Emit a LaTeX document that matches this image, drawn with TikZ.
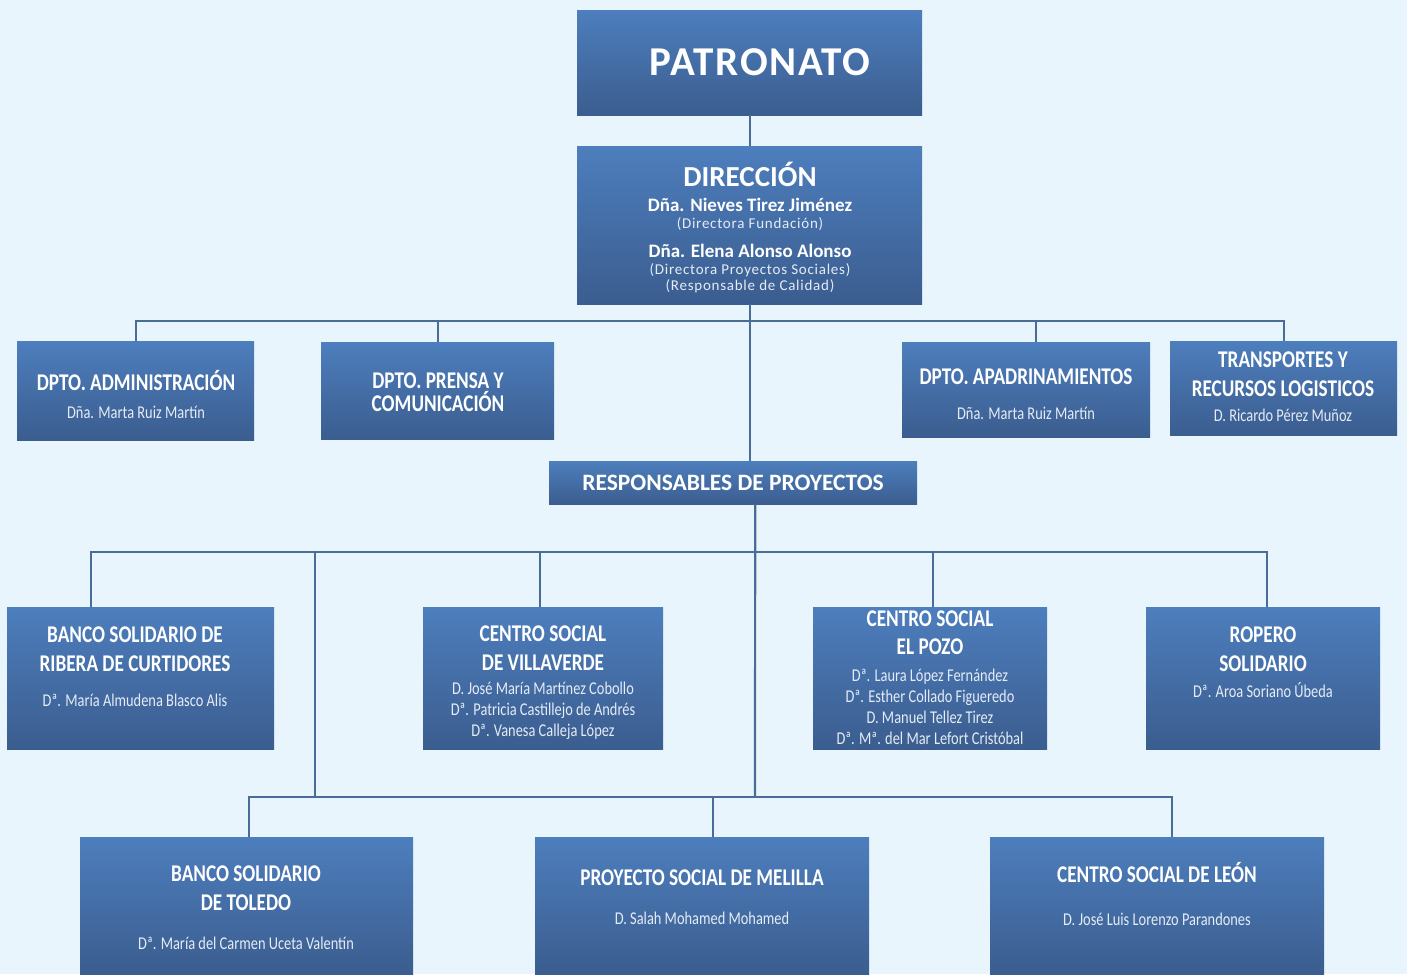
\documentclass[tikz,border=0pt]{standalone}
\usepackage{fontspec}
\setmainfont{Carlito}
\newfontfamily\cnd[FakeStretch=0.8]{Carlito}
\newfontfamily\plainf{Carlito}
\newfontfamily\widef[LetterSpace=4]{Carlito}
\newfontfamily\smallf[LetterSpace=5]{Carlito}
\usetikzlibrary{calc}

\definecolor{bgc}{HTML}{E8F5FC}
\definecolor{boxtop}{HTML}{4D7EBD}
\definecolor{boxbot}{HTML}{3B5D8F}
\definecolor{linec}{HTML}{4A6C98}
\definecolor{namec}{HTML}{E4ECF5}

\tikzset{
  orgbox/.style={rectangle, anchor=north west, inner sep=0pt, draw=none,
    top color=boxtop, bottom color=boxbot},
  orgtxt/.style={text=white, align=center, inner sep=0pt,
    font=\cnd\fontsize{18}{21}\selectfont},
  link/.style={draw=linec, line width=2.2pt},
}
\newcommand{\ttl}[1]{{\bfseries\fontsize{24}{21}\selectfont #1}}
\newcommand{\nm}[1]{{\color{namec}#1}}

\begin{document}
\begin{tikzpicture}[x=1pt,y=-1pt]
  \fill[bgc] (0,0) rectangle (1407,974);
  \useasboundingbox (0,0) rectangle (1407,974);

  % boxes
  \node[orgbox, minimum width=345pt, minimum height=105pt] (patronato) at (577,10) {};
  \node[orgbox, minimum width=345pt, minimum height=158pt] (direccion) at (577,146) {};
  \node[orgbox, minimum width=237pt, minimum height=99pt] (admin) at (17,341) {};
  \node[orgbox, minimum width=233pt, minimum height=97pt] (prensa) at (321,342) {};
  \node[orgbox, minimum width=248pt, minimum height=95pt] (apad) at (902,342) {};
  \node[orgbox, minimum width=227pt, minimum height=94pt] (transp) at (1170,341) {};
  \node[orgbox, minimum width=368pt, minimum height=43pt] (resp) at (549,461) {};
  \node[orgbox, minimum width=267pt, minimum height=142pt] (ribera) at (7,607) {};
  \node[orgbox, minimum width=240pt, minimum height=142pt] (villaverde) at (423,607) {};
  \node[orgbox, minimum width=234pt, minimum height=142pt] (pozo) at (813,607) {};
  \node[orgbox, minimum width=234pt, minimum height=142pt] (ropero) at (1146,607) {};
  \node[orgbox, minimum width=333pt, minimum height=137pt] (toledo) at (80,837) {};
  \node[orgbox, minimum width=334pt, minimum height=137pt] (melilla) at (535,837) {};
  \node[orgbox, minimum width=334pt, minimum height=137pt] (leon) at (990,837) {};

  % texts
  \node[orgtxt, font=\widef\bfseries\fontsize{41}{41}\selectfont] (patronato-t) at (760,62) {PATRONATO};
  \node[orgtxt, font=\smallf\fontsize{15}{16.5}\selectfont] (direccion-t) at (750,228)
    {{\plainf\bfseries\fontsize{29}{16}\selectfont DIRECCIÓN}\\[8.5pt]
     {\plainf\bfseries\fontsize{19}{16}\selectfont Dña. Nieves Tirez Jiménez}\\
     \nm{(Directora Fundación)}\\[13pt]
     {\plainf\bfseries\fontsize{19}{16}\selectfont Dña. Elena Alonso Alonso}\\
     \nm{(Directora Proyectos Sociales)}\\
     \nm{(Responsable de Calidad)}};
  \node[orgtxt] (admin-t) at (136,394) {\ttl{DPTO. ADMINISTRACIÓN}\\[7pt] \nm{Dña. Marta Ruiz Martín}};
  \node[orgtxt] (prensa-t) at (438,392) {\ttl{DPTO. PRENSA Y}\\[2pt] \ttl{COMUNICACIÓN}};
  \node[orgtxt] (apad-t) at (1026,394) {\ttl{DPTO. APADRINAMIENTOS}\\[14pt] \nm{Dña. Marta Ruiz Martín}};
  \node[orgtxt] (transp-t) at (1283,387) {\ttl{TRANSPORTES Y}\\[8pt] \ttl{RECURSOS LOGISTICOS}\\[4pt] \nm{D. Ricardo Pérez Muñoz}};
  \node[orgtxt, font=\bfseries\fontsize{23.5}{22}\selectfont] (resp-t) at (733,483) {RESPONSABLES DE PROYECTOS};
  \node[orgtxt] (ribera-t) at (135,667) {\ttl{BANCO SOLIDARIO DE}\\[8pt] \ttl{RIBERA DE CURTIDORES}\\[14pt] \nm{Dª. María Almudena Blasco Alis}};
  \node[orgtxt] (villaverde-t) at (543,683) {\ttl{CENTRO SOCIAL}\\[8pt] \ttl{DE VILLAVERDE}\\[3pt] \nm{D. José María Martínez Cobollo}\\ \nm{Dª. Patricia Castillejo de Andrés}\\ \nm{Dª. Vanesa Calleja López}};
  \node[orgtxt] (pozo-t) at (930,678) {\ttl{CENTRO SOCIAL}\\[7pt] \ttl{EL POZO}\\[6pt] \nm{Dª. Laura López Fernández}\\ \nm{Dª. Esther Collado Figueredo}\\ \nm{D. Manuel Tellez Tirez}\\ \nm{Dª. Mª. del Mar Lefort Cristóbal}};
  \node[orgtxt] (ropero-t) at (1263,662) {\ttl{ROPERO}\\[8pt] \ttl{SOLIDARIO}\\[5pt] \nm{Dª. Aroa Soriano Úbeda}};
  \node[orgtxt] (toledo-t) at (246,908) {\ttl{BANCO SOLIDARIO}\\[8pt] \ttl{DE TOLEDO}\\[18pt] \nm{Dª. María del Carmen Uceta Valentín}};
  \node[orgtxt] (melilla-t) at (702,897) {\ttl{PROYECTO SOCIAL DE MELILLA}\\[18pt] \nm{D. Salah Mohamed Mohamed}};
  \node[orgtxt] (leon-t) at (1157,894) {\ttl{CENTRO SOCIAL DE LEÓN}\\[22pt] \nm{D. José Luis Lorenzo Parandones}};

  % connectors
  \coordinate (busA) at (750,321);
  \coordinate (busB) at (755,552);
  \coordinate (busC) at (755,797);
  \coordinate (split) at (315,552);
  \draw[link] (patronato.south) -- (direccion.north);
  \draw[link] (direccion.south) -- (resp.north -| direccion.south);
  \draw[link] (admin.north) |- (transp.north |- busA) -- (transp.north);
  \draw[link] (prensa.north) -- (prensa.north |- busA);
  \draw[link] ([xshift=10pt]apad.north) -- ([xshift=10pt]apad.north |- busA);
  \draw[link] ([xshift=22pt]resp.south) -- (busC);
  \draw[link] ([xshift=-50pt]ribera.north) |- ([xshift=4pt]ropero.north |- busB) -- ([xshift=4pt]ropero.north);
  \draw[link] ([xshift=-3pt]villaverde.north) -- ([xshift=-3pt]villaverde.north |- busB);
  \draw[link] ([xshift=3pt]pozo.north) -- ([xshift=3pt]pozo.north |- busB);
  \draw[link] (split) -- (split |- busC);
  \draw[link] ([xshift=2pt]toledo.north) |- ([xshift=15pt]leon.north |- busC) -- ([xshift=15pt]leon.north);
  \draw[link] ([xshift=11pt]melilla.north) -- ([xshift=11pt]melilla.north |- busC);
\end{tikzpicture}
\end{document}
